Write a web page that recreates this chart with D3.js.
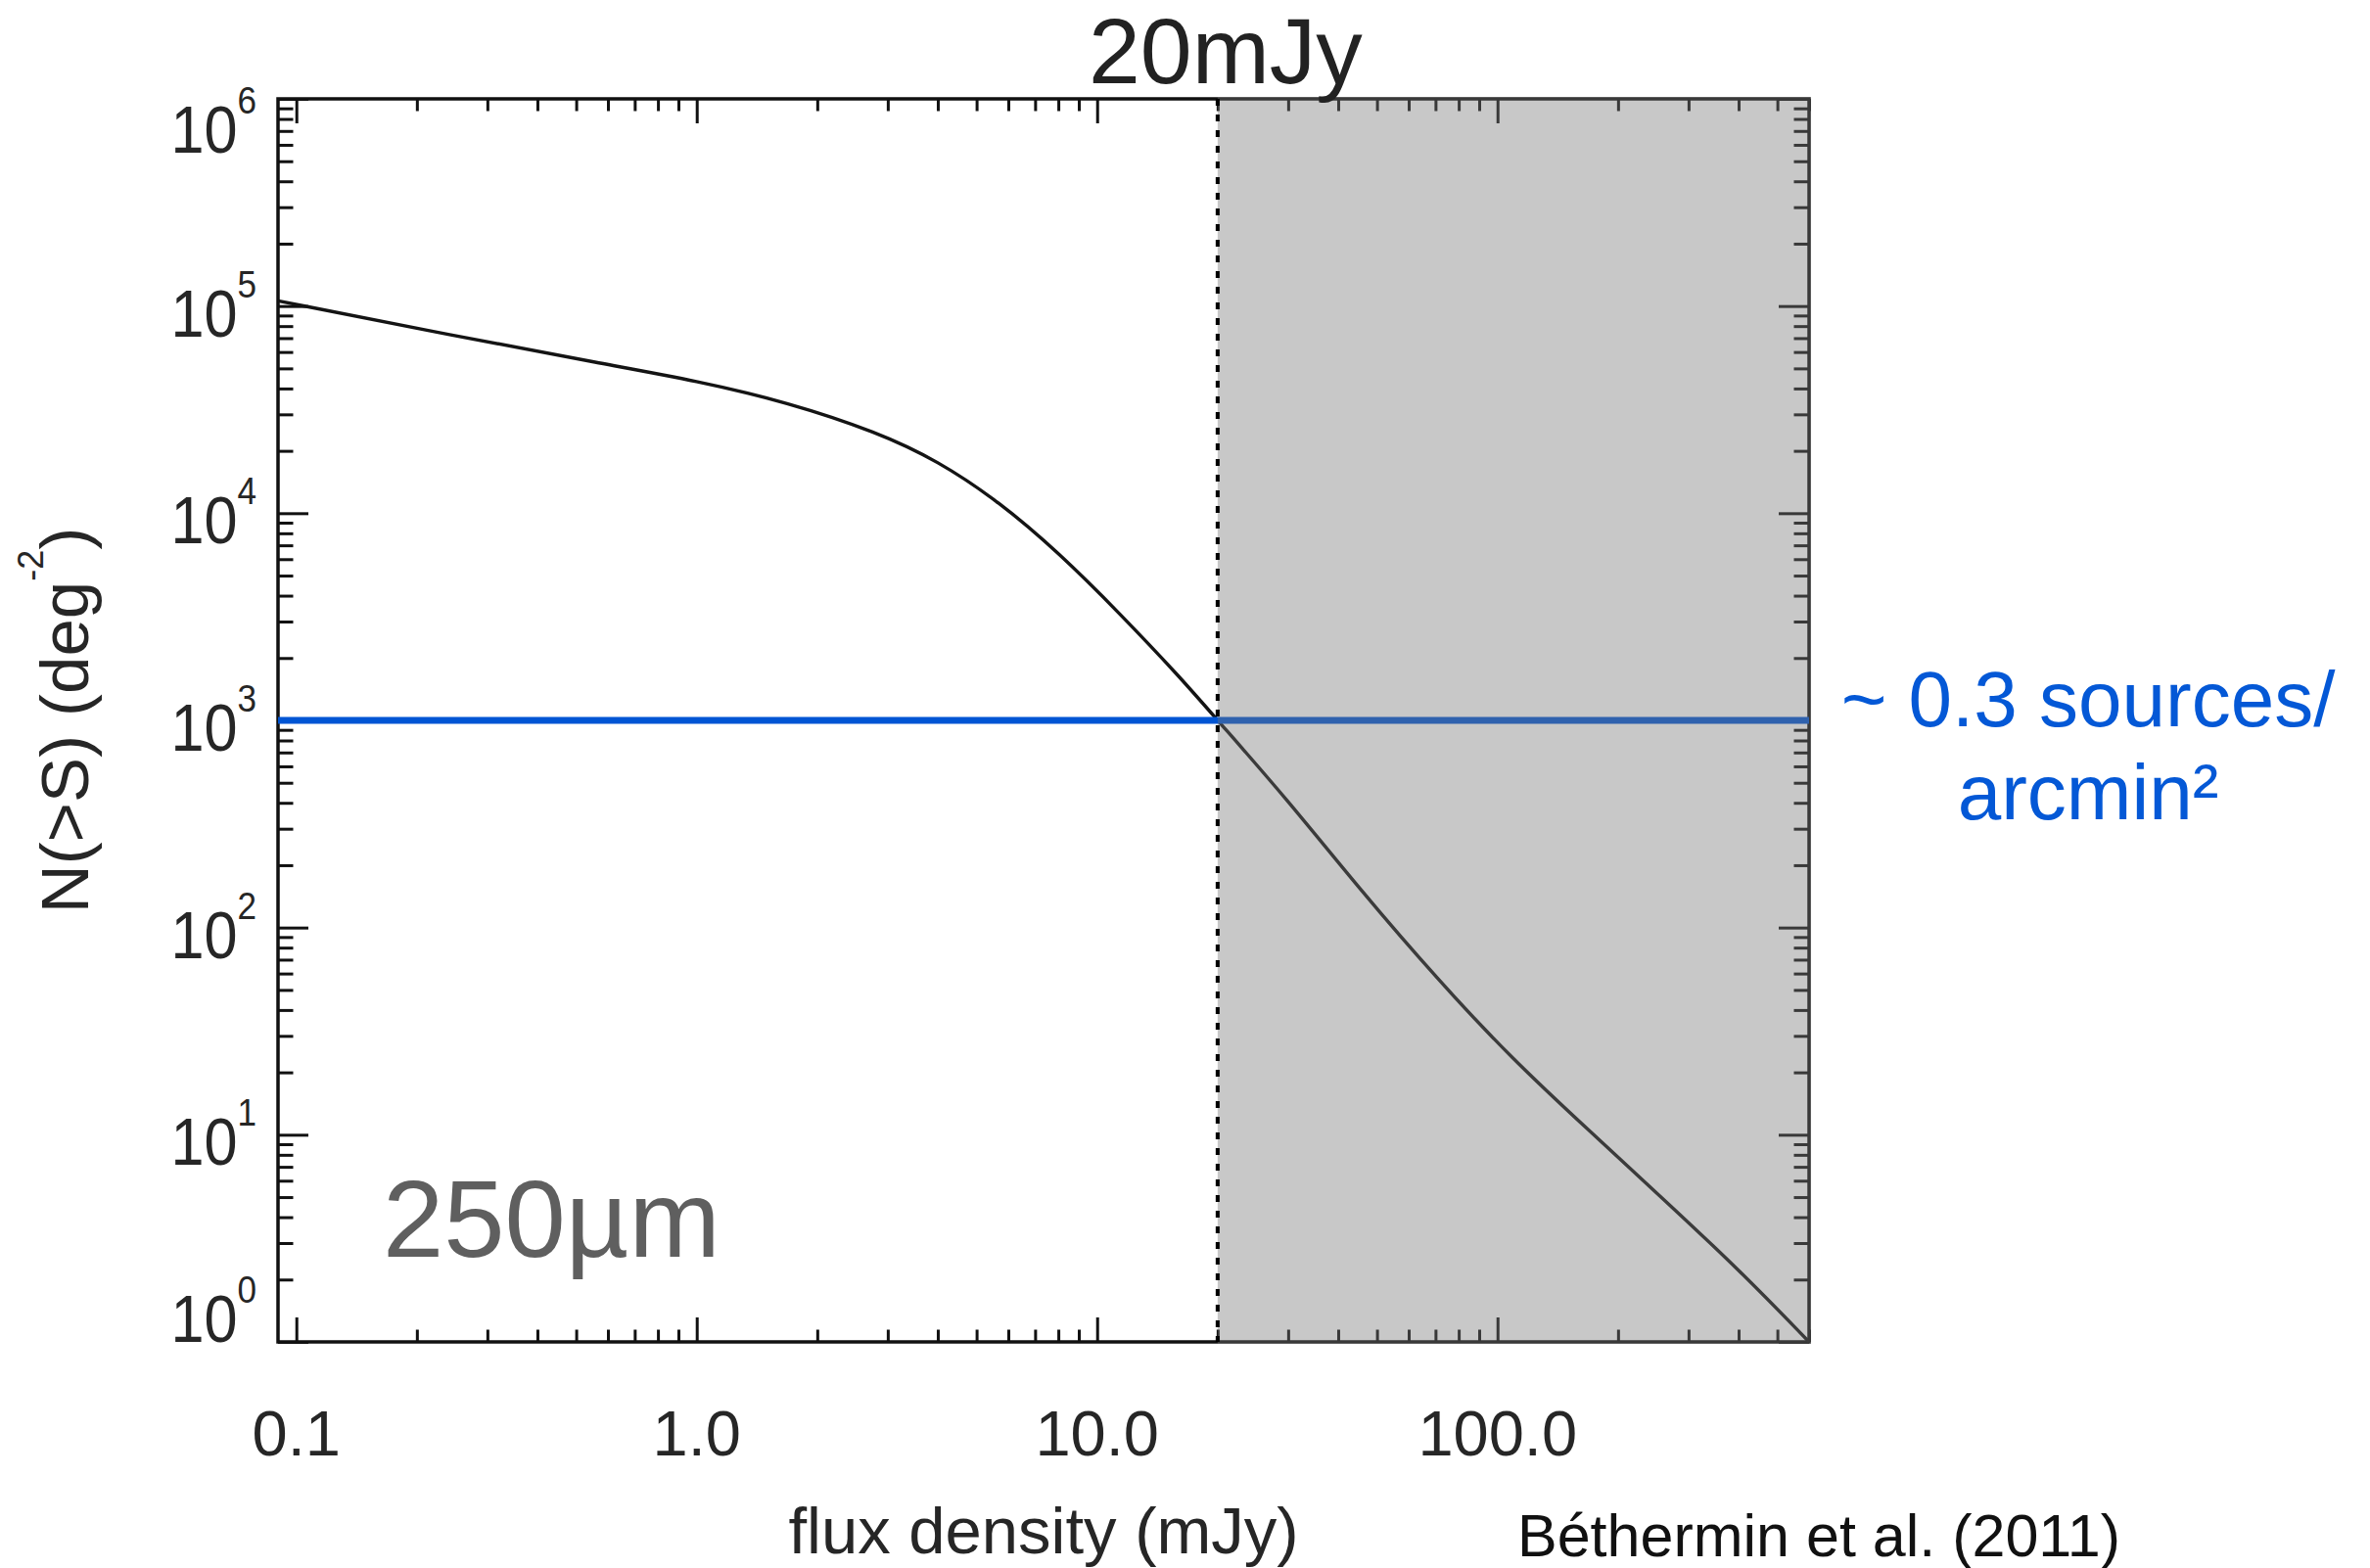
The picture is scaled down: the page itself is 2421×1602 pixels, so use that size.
<!DOCTYPE html>
<html>
<head>
<meta charset="utf-8">
<script src="https://cdn.jsdelivr.net/npm/d3@7"></script>
<style>
  html, body { margin: 0; padding: 0; background: #ffffff; }
  svg { display: block; }
  text { font-family: "Liberation Sans", Arial, Helvetica, sans-serif; }
</style>
</head>
<body>
<div id="chart"></div>
<script>
// ---------------- data ----------------
const fluxDensity = [0.09, 0.247, 0.59, 1.0, 1.68, 2.83, 4.0, 5.68, 8.04, 11.4, 16.1, 20, 29.6, 45.8, 70.8, 109, 169, 261, 404, 600];
const sourceCounts = [1.06e5, 7.2e4, 5.24e4, 4.36e4, 3.44e4, 2.46e4, 1.79e4, 1.14e4, 6.42e3, 3.28e3, 1.62e3, 1000, 423, 149, 56.3, 23.1, 10.5, 4.85, 2.2, 1.0];
const xMajorTicks = [0.1, 1, 10, 100];
const xTickLabels = ["0.1", "1.0", "10.0", "100.0"];
const yExponents = [0, 1, 2, 3, 4, 5, 6];
const cutFlux = 20;            // mJy
const cutLevel = 1000;         // deg^-2
const xDomain = [0.09, 600];
const yDomain = [1, 1e6];

// ---------------- layout ----------------
const W = 2421, H = 1602;
const L = 284, R = 1848, T = 101, B = 1371;

const svg = d3.select("#chart").append("svg")
  .attr("width", W).attr("height", H)
  .attr("viewBox", `0 0 ${W} ${H}`);

svg.append("rect").attr("width", W).attr("height", H).attr("fill", "#fff");

const x = d3.scaleLog().domain(xDomain).range([L, R]);
const y = d3.scaleLog().domain(yDomain).range([B, T]);

// minor ticks
const xMinor = [];
[0.1, 1, 10, 100].forEach(d => { for (let k = 2; k <= 9; k++) { const v = d * k; if (v >= xDomain[0] && v <= xDomain[1]) xMinor.push(v); } });
const yMinor = [];
yExponents.slice(0, -1).forEach(e => { for (let k = 2; k <= 9; k++) yMinor.push(k * Math.pow(10, e)); });
const yMajor = yExponents.map(e => Math.pow(10, e));

const xMajLen = 25, xMinLen = 12.5, yMajLen = 31, yMinLen = 15.5;
const tickColor = "#111";

function styleAxis(g) {
  g.select(".domain").remove();
  g.selectAll(".tick line").attr("stroke", tickColor).attr("stroke-width", 3);
  g.selectAll(".tick text").remove();
}

const axes = svg.append("g");
// bottom
axes.append("g").attr("transform", `translate(0,${B})`)
  .call(d3.axisBottom(x).tickValues(xMajorTicks).tickSize(-xMajLen).tickFormat("")).call(styleAxis);
axes.append("g").attr("transform", `translate(0,${B})`)
  .call(d3.axisBottom(x).tickValues(xMinor).tickSize(-xMinLen).tickFormat("")).call(styleAxis);
// top
axes.append("g").attr("transform", `translate(0,${T})`)
  .call(d3.axisTop(x).tickValues(xMajorTicks).tickSize(-xMajLen).tickFormat("")).call(styleAxis);
axes.append("g").attr("transform", `translate(0,${T})`)
  .call(d3.axisTop(x).tickValues(xMinor).tickSize(-xMinLen).tickFormat("")).call(styleAxis);
// left
axes.append("g").attr("transform", `translate(${L},0)`)
  .call(d3.axisLeft(y).tickValues(yMajor).tickSize(-yMajLen).tickFormat("")).call(styleAxis);
axes.append("g").attr("transform", `translate(${L},0)`)
  .call(d3.axisLeft(y).tickValues(yMinor).tickSize(-yMinLen).tickFormat("")).call(styleAxis);
// right
axes.append("g").attr("transform", `translate(${R},0)`)
  .call(d3.axisRight(y).tickValues(yMajor).tickSize(-yMajLen).tickFormat("")).call(styleAxis);
axes.append("g").attr("transform", `translate(${R},0)`)
  .call(d3.axisRight(y).tickValues(yMinor).tickSize(-yMinLen).tickFormat("")).call(styleAxis);

// frame
svg.append("rect")
  .attr("x", x(xDomain[0])).attr("y", y(yDomain[1]))
  .attr("width", x(xDomain[1]) - x(xDomain[0]))
  .attr("height", y(yDomain[0]) - y(yDomain[1]))
  .attr("fill", "none").attr("stroke", "#111").attr("stroke-width", 3.5);

// curve
const pts = fluxDensity.map((s, i) => [x(s), y(sourceCounts[i])]);
svg.append("path")
  .attr("d", d3.line().curve(d3.curveBasis)(pts))
  .attr("fill", "none").attr("stroke", "#141414").attr("stroke-width", 3.4);

// blue level line
svg.append("line")
  .attr("x1", x(xDomain[0])).attr("x2", x(xDomain[1]))
  .attr("y1", y(cutLevel)).attr("y2", y(cutLevel))
  .attr("stroke", "#0055d4").attr("stroke-width", 7);

// grey translucent overlay beyond the cut
svg.append("rect")
  .attr("x", x(cutFlux)).attr("y", y(yDomain[1]) - 2)
  .attr("width", x(xDomain[1]) - x(cutFlux) + 2)
  .attr("height", y(yDomain[0]) - y(yDomain[1]) + 4)
  .attr("fill", "rgb(117,117,117)").attr("fill-opacity", 0.4);

// dashed cut line
svg.append("line")
  .attr("x1", x(cutFlux)).attr("x2", x(cutFlux))
  .attr("y1", y(yDomain[1])).attr("y2", y(yDomain[0]))
  .attr("stroke", "#000").attr("stroke-width", 4)
  .attr("stroke-dasharray", "7,9");

// ---------------- text ----------------
const labelColor = "#262626";

// x tick labels
svg.append("g").selectAll("text").data(xMajorTicks).join("text")
  .attr("x", d => x(d)).attr("y", 1487)
  .attr("text-anchor", "middle")
  .attr("font-size", 65).attr("fill", labelColor)
  .text((d, i) => xTickLabels[i]);

// y tick labels (10^n)
const yl = svg.append("g").selectAll("text").data(yExponents).join("text")
  .attr("transform", d => {
    const base = Math.min(Math.max(y(Math.pow(10, d)) + 31, y(yDomain[1]) + 55), y(yDomain[0]));
    return `translate(262,${base}) scale(0.9,1)`;
  })
  .attr("text-anchor", "end")
  .attr("font-size", 68).attr("fill", labelColor);
yl.append("tspan").text("10");
yl.append("tspan").attr("dy", -40).attr("font-size", 39).text(d => String(d));

// x axis title
svg.append("text")
  .attr("x", (L + R) / 2).attr("y", 1587)
  .attr("text-anchor", "middle")
  .attr("font-size", 67).attr("fill", labelColor)
  .text("flux density (mJy)");

// y axis title
const yt = svg.append("text")
  .attr("transform", `translate(90,${(T + B) / 2}) rotate(-90)`)
  .attr("text-anchor", "middle")
  .attr("font-size", 69).attr("fill", labelColor);
yt.append("tspan").text("N(>S) (deg");
yt.append("tspan").attr("dy", -46).attr("font-size", 36).text("-2");
yt.append("tspan").attr("dy", 46).text(")");

// annotation: cut flux
svg.append("text")
  .attr("x", 1112).attr("y", 85)
  .attr("font-size", 95).attr("fill", "#222")
  .text("20mJy");

// annotation: band
svg.append("text")
  .attr("x", 391).attr("y", 1284)
  .attr("font-size", 112).attr("fill", "#5f5f5f")
  .text("250µm");

// annotation: density
svg.append("text")
  .attr("x", 2133).attr("y", 742)
  .attr("text-anchor", "middle")
  .attr("font-size", 80).attr("fill", "#0458d6")
  .text("~ 0.3 sources/");
svg.append("text")
  .attr("x", 2133).attr("y", 837)
  .attr("text-anchor", "middle")
  .attr("font-size", 80).attr("fill", "#0458d6")
  .text("arcmin²");

// citation
svg.append("text")
  .attr("x", 1550).attr("y", 1590)
  .attr("font-size", 61).attr("fill", "#111")
  .text("Béthermin et al. (2011)");
</script>
</body>
</html>
